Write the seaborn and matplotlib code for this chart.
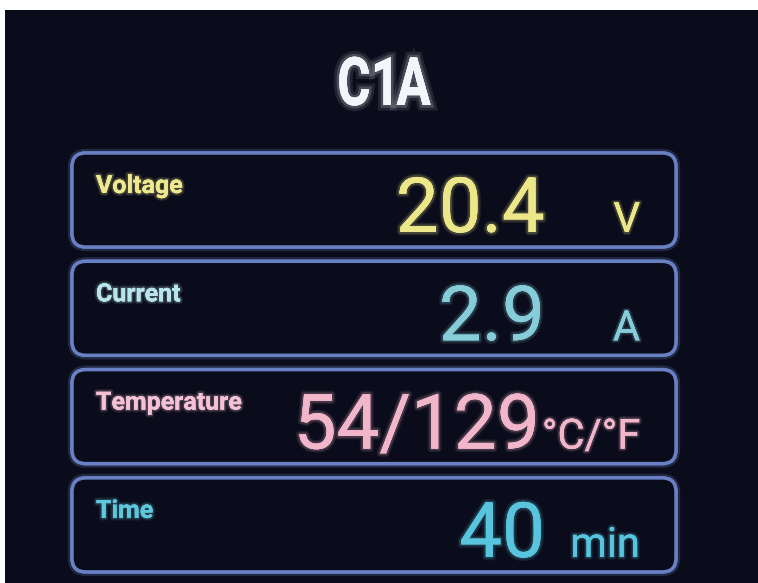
import matplotlib
matplotlib.use("Agg")
import matplotlib.pyplot as plt
import matplotlib.patheffects as pe
from matplotlib.patches import FancyBboxPatch, Rectangle, PathPatch
from matplotlib.textpath import TextPath
from matplotlib.font_manager import FontProperties
from matplotlib.transforms import Affine2D
import seaborn as sns

# panel content
title = "C1A"
labels = ["Voltage", "Current", "Temperature", "Time"]
values = ["20.4", "2.9", "54/129", "40"]
units = ["V", "A", "°C/°F", "min"]
label_colors = ["#eee98f", "#b8e6ec", "#f4c2d4", "#5fc6dc"]
value_colors = ["#ece889", "#86cdd9", "#f2b6ca", "#58c4dd"]

bg = "#0b0c1b"
edge = "#6a80c4"

sns.set_theme(style="dark")
plt.rcParams['font.family'] = ['Roboto', 'DejaVu Sans']


def glow(color, w=4):
    return [pe.withStroke(linewidth=w, foreground=color, alpha=0.10),
            pe.withStroke(linewidth=w * 0.55, foreground=color, alpha=0.18),
            pe.Normal()]


W, H = 758, 583
fig = plt.figure(figsize=(W / 100, H / 100), dpi=100, facecolor="white")
ax = fig.add_axes([0, 0, 1, 1])
ax.set_xlim(0, W)
ax.set_ylim(H, 0)
ax.axis("off")

# dark panel
ax.add_patch(Rectangle((5, 10), W - 5, H - 10, facecolor=bg, edgecolor="none"))

# tall condensed title: letters squeezed one by one, with a little tracking
fp = FontProperties(family="Roboto", weight="bold")
sx, gap = 0.76, 6
glyphs = []
for ch in title:
    tp = TextPath((0, 0), ch, size=67, prop=fp)
    glyphs.append((tp, tp.get_extents()))
total = sum(e.width * sx for _, e in glyphs) + gap * (len(glyphs) - 1)
x = 385 - total / 2
for tp, e in glyphs:
    tr = Affine2D().translate(-e.x0, 0).scale(sx, -1).translate(x, 105)
    ax.add_patch(PathPatch(tr.transform_path(tp), facecolor="#f4f5fb", edgecolor="none",
                           path_effects=[pe.withStroke(linewidth=8, foreground="#ffffff", alpha=0.10),
                                         pe.withStroke(linewidth=4, foreground="#ffffff", alpha=0.18),
                                         pe.Normal()]))
    x += e.width * sx + gap

box_left, box_right = 72, 676
box_h = 94
row_step = 108.3
first_top = 153

fig.canvas.draw()
renderer = fig.canvas.get_renderer()
inv = ax.transData.inverted()

for i, lab in enumerate(labels):
    top = first_top + i * row_step
    box = FancyBboxPatch((box_left, top), box_right - box_left, box_h,
                         boxstyle="round,pad=0,rounding_size=14",
                         facecolor=bg, edgecolor=edge, linewidth=2.5,
                         path_effects=[pe.withStroke(linewidth=6, foreground=edge, alpha=0.25),
                                       pe.Normal()])
    ax.add_patch(box)

    ax.text(96, top + 40, lab, ha="left", va="baseline", fontsize=18,
            fontweight="bold", color=label_colors[i],
            path_effects=glow(label_colors[i], 4))

    u = ax.text(640, top + 79, units[i], ha="right", va="baseline", fontsize=30,
                color=value_colors[i], path_effects=glow(value_colors[i], 4))
    bb = u.get_window_extent(renderer=renderer)
    u_left = inv.transform((bb.x0, bb.y0))[0]
    v_right = min(545, u_left - 2)
    ax.text(v_right, top + 79, values[i], ha="right", va="baseline", fontsize=55,
            color=value_colors[i], path_effects=glow(value_colors[i], 5))

fig.savefig("out.png", dpi=100, facecolor="white")
